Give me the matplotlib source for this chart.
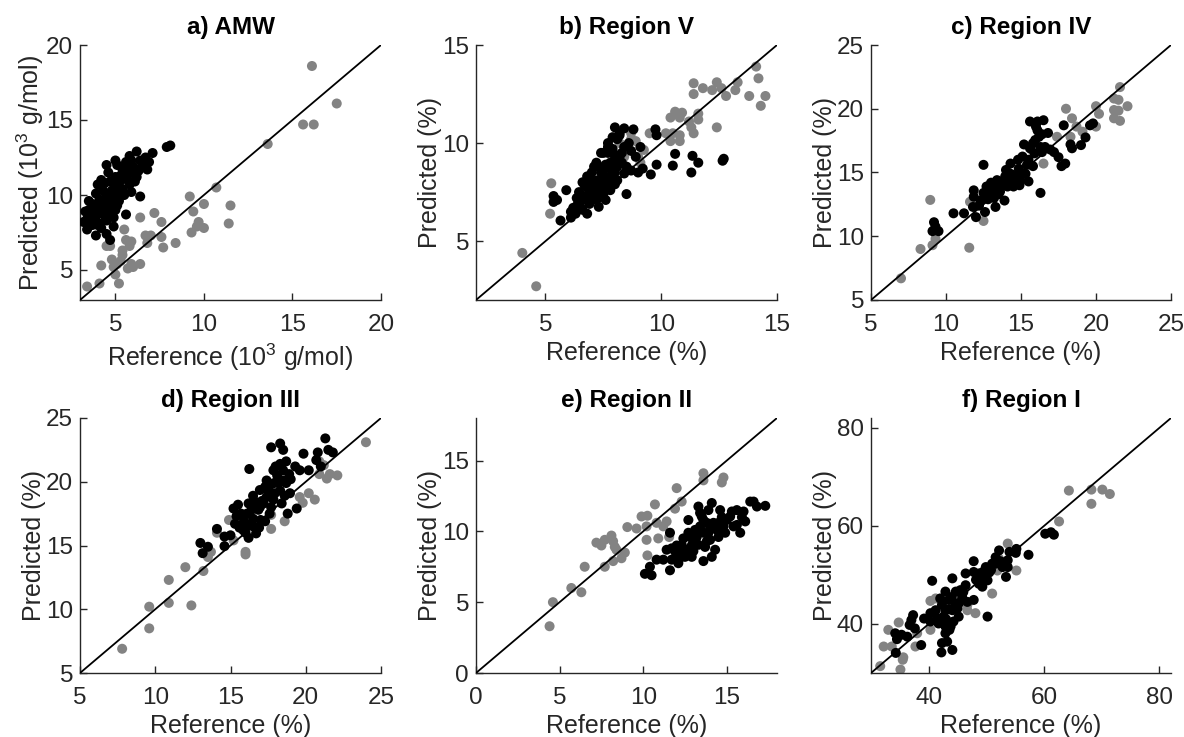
import numpy as np
import matplotlib
matplotlib.use("Agg")
import matplotlib.pyplot as plt

plt.rcParams['font.family'] = ['Liberation Sans', 'DejaVu Sans']
plt.rcParams['mathtext.fontset'] = 'custom'
plt.rcParams['mathtext.rm'] = 'Liberation Sans'
plt.rcParams['mathtext.it'] = 'Liberation Sans'

# ---- data: (reference, predicted) ----
# a) AMW (10^3 g/mol)
amw_gray = [(16.1, 18.6), (17.5, 16.1), (15.6, 14.7), (16.2, 14.7), (13.6, 13.4), (10.7, 10.5),
            (11.5, 9.3), (11.4, 8.1), (9.2, 9.9), (10.0, 9.4), (9.4, 8.9), (9.7, 8.2), (10.0, 7.8),
            (9.3, 7.5), (9.6, 7.9), (7.2, 8.8), (7.6, 8.2), (8.4, 6.8), (7.7, 6.5), (7.6, 7.2),
            (7.0, 7.3), (6.7, 7.3), (6.8, 6.8), (6.4, 8.5), (5.5, 7.7), (5.6, 7.0), (5.8, 6.6),
            (5.9, 6.9), (5.4, 6.3), (4.5, 6.6), (4.7, 6.6), (4.8, 5.7), (5.1, 5.4), (5.3, 5.6),
            (4.9, 5.2), (5.0, 4.7), (5.2, 4.1), (4.2, 5.3), (4.1, 4.1), (3.4, 3.9), (5.7, 5.1),
            (6.0, 5.2), (6.4, 5.4), (5.9, 5.4), (5.4, 6.0)]
amw_black = [(8.1, 13.3), (7.9, 13.2), (7.1, 12.8), (6.7, 12.5), (6.2, 12.9), (6.4, 12.3), (5.8, 12.6),
             (5.0, 12.3), (5.1, 12.0), (4.5, 12.0), (5.4, 11.7), (6.0, 11.9), (6.8, 11.7), (6.2, 11.2),
             (5.7, 11.0), (5.3, 11.0), (4.7, 10.9), (5.0, 10.6), (5.4, 10.4), (5.9, 10.2), (6.4, 9.9),
             (4.3, 10.3), (3.9, 10.1), (4.1, 9.7), (4.5, 9.9), (4.9, 9.9), (5.2, 9.6), (3.5, 9.6),
             (3.5, 9.0), (3.8, 9.1), (4.3, 9.1), (4.7, 9.2), (5.0, 9.0), (5.6, 8.7), (3.2, 8.2),
             (3.6, 8.2), (3.9, 8.6), (4.1, 8.1), (4.5, 8.3), (3.4, 7.7), (3.9, 7.3), (4.5, 7.4),
             (4.7, 7.0), (4.9, 7.9), (3.8, 8.8), (4.2, 8.8), (4.7, 8.8), (5.1, 10.3), (4.8, 9.4),
             (4.4, 9.3), (5.6, 11.4), (6.0, 11.5), (5.3, 11.3), (5.5, 11.9), (6.5, 11.9), (4.4, 10.8),
             (4.0, 10.7), (4.6, 10.1), (5.2, 10.8), (5.8, 10.7), (6.1, 10.9), (4.6, 11.5), (4.2, 11.0),
             (3.7, 9.4), (4.0, 8.0), (3.4, 8.4), (5.5, 10.0), (6.6, 12.1), (5.6, 12.2),
             (4.8, 10.3), (5.0, 11.2), (5.5, 11.1), (5.8, 11.6), (6.3, 11.6), (4.3, 9.6), (4.6, 9.6),
             (4.9, 8.5), (4.4, 8.6), (4.2, 7.8), (3.7, 8.0), (3.3, 8.9), (5.1, 9.3), (5.9, 12.3),
             (6.9, 12.2), (5.3, 10.0), (4.0, 9.4), (3.6, 8.6)]

# b) Region V (%)
r5_gray = [(4.0, 4.4), (4.6, 2.7), (5.25, 7.95), (5.2, 6.4), (14.1, 13.9), (14.2, 13.3), (14.5, 12.4),
           (14.3, 11.9), (13.8, 12.4), (13.3, 13.1), (13.2, 12.7), (12.8, 12.4), (12.4, 13.1),
           (12.6, 12.8), (12.2, 12.7), (11.8, 12.8), (11.4, 13.05), (11.4, 12.5), (12.4, 10.8),
           (11.6, 11.5), (11.6, 11.2), (11.3, 10.8), (11.4, 10.5), (10.9, 11.55), (10.8, 11.3),
           (10.6, 11.6), (10.4, 11.3), (10.8, 10.4), (10.8, 10.1), (10.5, 10.5), (10.2, 10.5),
           (10.4, 10.1), (11.2, 11.1), (9.5, 10.5), (9.25, 9.65), (9.0, 9.3), (9.1, 9.0), (8.7, 10.2),
           (8.2, 10.0), (8.4, 9.3), (8.9, 10.1), (8.7, 10.5)]
r5_black = [(12.65, 9.1), (12.7, 9.2), (11.6, 9.0), (11.35, 9.35), (11.3, 8.5), (10.6, 9.45),
            (10.5, 8.85), (9.8, 8.9), (9.75, 10.7), (9.8, 10.4), (9.55, 8.4), (9.2, 8.7), (9.0, 8.5),
            (8.5, 7.4), (8.4, 10.75), (8.8, 10.7), (8.0, 10.8), (9.1, 9.8), (8.2, 10.4), (8.1, 10.2),
            (7.5, 9.5), (7.7, 9.8), (5.35, 7.3), (5.5, 7.1), (5.35, 7.0), (5.9, 7.6), (5.65, 6.05),
            (6.1, 6.2), (6.2, 6.7), (6.3, 6.4), (6.5, 6.75), (6.6, 7.1), (6.45, 7.5), (6.8, 6.4),
            (6.9, 7.6), (6.8, 8.3), (6.9, 7.95), (7.15, 7.8), (7.2, 7.1), (7.0, 8.5), (7.2, 9.0),
            (7.4, 8.5), (7.5, 8.1), (7.5, 7.4), (7.8, 7.6), (7.6, 7.1), (7.3, 6.75), (6.9, 6.9),
            (6.65, 7.3), (7.8, 8.3), (8.1, 8.8), (7.95, 9.1), (8.2, 9.3), (7.8, 8.7), (8.4, 8.45),
            (8.7, 8.6), (8.1, 8.1), (7.7, 9.5), (7.4, 9.5), (7.1, 8.8), (6.35, 7.2), (7.7, 7.95),
            (7.25, 8.1), (6.8, 7.2), (6.9, 7.6), (7.3, 7.5), (8.0, 7.9), (8.7, 9.6), (8.4, 9.8),
            (8.2, 10.5), (7.9, 10.3), (7.5, 8.6), (6.6, 8.0), (7.0, 7.3), (7.3, 8.0), (7.6, 8.9),
            (8.0, 9.4), (7.2, 7.6), (6.6, 6.6), (7.9, 8.1), (8.3, 9.0),
            (7.0, 8.1), (7.4, 7.8), (7.6, 7.6), (7.1, 7.4), (6.7, 7.8), (7.9, 9.7), (8.3, 9.5),
            (8.6, 10.0), (7.8, 9.0), (7.3, 8.8), (6.9, 8.3), (7.5, 8.3), (8.0, 8.5), (8.5, 8.8),
            (6.4, 6.9), (6.1, 6.5), (7.7, 10.0), (8.9, 9.3)]

# c) Region IV (%)
r4_gray = [(7.0, 6.7), (8.3, 9.0), (8.95, 12.85), (9.1, 9.3), (9.3, 9.8), (11.55, 9.1), (11.6, 12.7),
           (12.5, 11.2), (18.0, 20.0), (18.4, 19.25), (18.7, 18.6), (19.1, 18.2), (18.3, 17.8),
           (17.4, 17.8), (20.0, 20.2), (20.2, 19.6), (20.0, 18.6), (21.6, 21.7), (21.2, 20.8),
           (21.5, 20.7), (22.1, 20.2), (21.2, 19.9), (21.5, 19.85), (21.2, 19.25), (21.6, 19.05),
           (16.5, 15.7), (15.7, 16.8)]
r4_black = [(9.2, 11.1), (9.3, 10.75), (9.1, 10.4), (9.5, 10.4), (10.5, 11.8), (11.2, 11.8),
            (12.0, 11.5), (11.8, 12.3), (11.85, 13.6), (12.5, 15.6), (12.6, 11.9), (13.3, 12.3),
            (13.9, 12.8), (12.3, 12.8), (12.5, 13.4), (12.7, 13.9), (13.2, 13.9), (13.6, 13.5),
            (13.4, 14.4), (13.95, 14.7), (14.3, 14.9), (14.1, 13.9), (14.5, 13.9), (14.6, 14.4),
            (14.85, 15.3), (15.3, 14.9), (15.5, 14.3), (14.95, 14.4), (14.3, 15.7), (15.1, 16.25),
            (15.5, 16.0), (15.2, 17.2), (15.6, 16.9), (15.8, 15.5), (15.95, 17.55), (16.1, 18.3),
            (15.6, 19.0), (16.1, 19.0), (16.5, 19.1), (16.2, 17.8), (15.8, 17.3), (16.4, 16.6),
            (16.6, 17.0), (16.8, 18.1), (16.3, 17.0), (16.95, 16.8), (17.5, 16.2), (17.7, 15.5),
            (17.95, 15.7), (17.85, 18.7), (18.3, 17.2), (18.4, 16.9), (19.0, 17.15), (19.3, 17.75),
            (19.6, 18.7), (19.8, 18.85), (16.3, 13.4), (11.85, 13.1), (13.2, 13.0), (13.7, 14.3),
            (14.5, 14.8), (12.9, 13.6), (13.0, 14.2), (14.0, 15.2), (14.8, 16.0), (15.9, 16.5),
            (12.2, 12.4), (13.5, 13.3), (12.8, 12.9), (13.6, 14.0), (14.2, 14.3), (15.0, 15.0),
            (15.4, 15.6), (16.0, 18.6), (16.4, 18.0), (14.9, 14.0), (13.1, 13.5), (17.2, 16.6)]

# d) Region III (%)
r3_gray = [(7.8, 6.9), (9.6, 8.5), (9.6, 10.2), (10.9, 12.3), (10.9, 10.5), (12.0, 13.3), (12.4, 10.3),
           (13.2, 13.0), (13.7, 14.5), (13.5, 14.1), (14.1, 16.0), (14.9, 17.0), (15.2, 15.4),
           (16.0, 14.3), (16.0, 14.5), (17.7, 16.3), (17.7, 17.4), (18.6, 16.9), (19.6, 18.8),
           (19.8, 18.35), (20.2, 19.1), (20.6, 18.6), (20.9, 20.6), (21.2, 21.3), (21.4, 20.25),
           (21.6, 20.6), (22.1, 20.5), (24.0, 23.1), (20.9, 21.6)]
r3_black = [(13.0, 15.2), (13.15, 14.4), (13.5, 14.9), (14.1, 16.3), (14.6, 14.95), (14.6, 15.7),
            (15.0, 15.8), (15.2, 17.9), (15.3, 16.7), (15.5, 18.2), (15.4, 17.3), (15.85, 16.7),
            (15.85, 16.2), (16.2, 15.6), (16.1, 17.5), (16.2, 18.3), (16.25, 21.0), (16.5, 17.1),
            (16.5, 16.5), (16.7, 15.95), (16.5, 18.9), (16.95, 19.35), (16.95, 18.0), (17.3, 16.9),
            (17.4, 20.1), (17.4, 18.8), (17.6, 19.7), (17.7, 18.0), (17.85, 20.9), (17.7, 22.7),
            (17.95, 19.1), (18.2, 19.9), (18.3, 23.0), (18.5, 22.5), (18.3, 21.4), (18.5, 20.9),
            (18.5, 20.1), (18.4, 18.3), (18.3, 19.3), (18.7, 19.9), (18.8, 17.5), (18.95, 19.1),
            (19.3, 21.2), (19.4, 17.9), (19.85, 22.2), (19.6, 20.9), (20.2, 20.9), (20.7, 21.7),
            (20.8, 22.3), (21.3, 23.4), (21.5, 22.5), (21.8, 22.3), (17.85, 18.6), (17.5, 19.35),
            (17.2, 18.3), (16.85, 17.8), (16.4, 17.8), (15.7, 17.5), (18.1, 20.5), (16.0, 16.0),
            (17.0, 17.0), (17.9, 19.9), (18.9, 20.6), (21.0, 21.2), (15.9, 16.9), (17.1, 18.5),
            (16.7, 18.4), (17.3, 19.6), (18.0, 21.2), (18.7, 21.6), (16.1, 16.6), (15.6, 16.4),
            (17.6, 17.5), (18.6, 18.9), (19.0, 20.2), (16.9, 16.4)]

# e) Region II (%)
r2_gray = [(4.4, 3.3), (4.6, 5.0), (5.7, 6.0), (6.3, 5.7), (6.5, 7.5), (7.2, 9.2), (7.5, 9.0), (7.7, 9.4),
           (8.1, 9.7), (8.2, 9.3), (8.3, 8.9), (8.4, 8.7), (7.7, 7.5), (8.2, 7.9), (8.7, 8.1), (8.9, 8.5),
           (9.05, 10.3), (9.6, 10.2), (9.9, 11.05), (10.25, 11.1), (10.2, 10.35), (10.2, 9.4),
           (10.25, 8.3), (10.7, 11.9), (10.8, 10.6), (10.9, 9.5), (11.2, 10.35), (11.4, 10.7),
           (11.55, 9.6), (12.0, 13.05), (11.9, 11.6), (12.3, 12.1), (13.6, 14.1), (13.6, 13.6),
           (14.8, 13.8), (14.7, 13.45)]
r2_black = [(10.1, 7.0), (10.5, 6.9), (10.4, 7.5), (10.8, 8.0), (11.6, 7.25), (11.6, 9.9), (11.7, 8.0),
            (12.0, 8.35), (12.1, 7.75), (11.7, 8.8), (12.3, 9.05), (12.6, 8.7), (12.4, 9.5), (12.7, 9.9),
            (12.9, 8.2), (13.0, 9.2), (13.1, 10.1), (13.3, 11.75), (13.5, 11.05), (13.6, 7.9),
            (13.6, 9.9), (13.8, 10.6), (13.7, 8.9), (13.9, 11.5), (14.0, 9.4), (14.2, 10.6), (14.3, 8.7),
            (14.5, 9.6), (14.6, 11.5), (14.1, 8.2), (14.8, 10.35), (15.2, 11.05), (15.4, 10.35),
            (15.6, 11.5), (15.8, 9.9), (16.0, 11.4), (16.4, 12.1), (16.6, 12.1), (16.1, 10.7),
            (16.8, 11.75), (17.3, 11.8), (15.6, 10.45), (13.4, 10.35), (12.8, 9.6), (12.2, 8.6),
            (11.4, 8.7), (11.2, 8.0), (12.7, 10.8), (14.0, 10.35), (15.0, 10.8), (14.5, 10.6),
            (13.3, 9.05), (14.1, 12.0), (12.0, 9.0), (13.0, 8.6), (13.9, 9.9), (14.9, 9.9), (15.3, 11.4),
            (13.5, 10.0), (12.5, 8.2), (13.2, 9.6), (13.8, 9.3), (14.4, 10.1), (13.6, 10.8),
            (12.9, 9.0), (14.7, 11.0), (15.9, 11.0), (12.3, 8.2), (11.9, 8.6), (13.4, 11.3)]

# f) Region I (%)
r1_gray = [(68.2, 67.4), (70.1, 67.4), (71.4, 66.5), (64.3, 67.2), (68.2, 64.5), (62.6, 60.9),
           (53.7, 56.4), (55.2, 50.9), (51.0, 46.2), (48.1, 42.2), (46.7, 42.8), (46.7, 43.9),
           (40.3, 44.7), (41.2, 45.2), (40.3, 38.8), (34.8, 40.3), (33.0, 38.8), (32.2, 35.4),
           (33.6, 35.4), (37.7, 35.4), (35.6, 33.2), (31.6, 31.4), (35.1, 30.7), (35.5, 32.7),
           (38.0, 38.1), (52.2, 53.3), (51.9, 50.9)]
r1_black = [(60.2, 58.4), (61.2, 58.7), (61.7, 58.2), (57.3, 54.1), (55.2, 55.3), (55.1, 54.5),
            (54.0, 54.7), (53.7, 53.0), (52.2, 55.0), (51.6, 53.6), (53.4, 49.6), (52.8, 51.6),
            (51.0, 52.3), (49.9, 51.6), (48.7, 50.3), (47.8, 52.8), (50.2, 48.9), (49.3, 47.6),
            (47.8, 44.9), (50.2, 41.5), (46.4, 47.9), (45.5, 46.9), (44.1, 49.3), (44.7, 46.6),
            (42.9, 46.6), (43.5, 44.9), (45.2, 44.2), (42.3, 43.9), (41.2, 42.8), (42.9, 42.8),
            (44.1, 42.8), (45.2, 41.5), (42.6, 41.5), (41.7, 40.1), (42.9, 39.5), (42.9, 38.1),
            (43.2, 36.4), (42.3, 36.1), (42.2, 34.2), (44.1, 34.7), (40.6, 48.8), (40.3, 42.2),
            (39.2, 41.1), (37.3, 41.8), (36.7, 39.8), (37.6, 39.1), (36.3, 37.4), (34.2, 38.1),
            (34.5, 36.9), (34.3, 34.1), (38.7, 35.7), (40.3, 40.5), (46.4, 50.3), (48.7, 48.2),
            (51.6, 52.3), (46.7, 44.5), (41.5, 41.1), (44.7, 44.2), (43.8, 39.5), (47.8, 50.6),
            (53.7, 51.6), (43.5, 43.0), (44.0, 45.5), (45.8, 45.5), (49.0, 49.5), (50.5, 50.5),
            (43.0, 41.0), (44.3, 40.5), (43.6, 38.8), (42.0, 45.2), (45.0, 43.2), (46.0, 46.5),
            (48.2, 49.0), (50.8, 51.0), (52.4, 52.8), (49.4, 50.6), (37.0, 40.8), (35.3, 37.8)]

titles = ['a) AMW', 'b) Region V', 'c) Region IV', 'd) Region III', 'e) Region II', 'f) Region I']
gray_sets = [amw_gray, r5_gray, r4_gray, r3_gray, r2_gray, r1_gray]
black_sets = [amw_black, r5_black, r4_black, r3_black, r2_black, r1_black]
limits = [(3, 20), (2, 15), (5, 25), (5, 25), (0, 18), (30, 82)]
ticks = [[5, 10, 15, 20], [5, 10, 15], [5, 10, 15, 20, 25], [5, 10, 15, 20, 25], [0, 5, 10, 15], [40, 60, 80]]
xlabels = ['Reference (10$^3$ g/mol)'] + ['Reference (%)'] * 5
ylabels = ['Predicted (10$^3$ g/mol)'] + ['Predicted (%)'] * 5

# axes boxes in pixels (left, top, right, bottom) measured on the 1184x737 image
W, H = 1184, 737
cols = [(80, 381), (476, 777), (871, 1171)]
rows = [(45, 300), (418, 673)]

fig = plt.figure(figsize=(W / 100, H / 100), dpi=100)
ink = '#262626'
for i in range(6):
    (l, r), (t, b) = cols[i % 3], rows[i // 3]
    ax = fig.add_axes([l / W, 1 - b / H, (r - l) / W, (b - t) / H])
    lo, hi = limits[i]
    g = np.array(gray_sets[i]).T
    k = np.array(black_sets[i]).T
    ax.scatter(g[0], g[1], s=52, c='#838383', edgecolors='none', zorder=2)
    ax.scatter(k[0], k[1], s=52, c='black', edgecolors='none', zorder=3)
    ax.plot([lo, hi], [lo, hi], color='black', lw=1.3, zorder=4)
    ax.set_xlim(lo, hi); ax.set_ylim(lo, hi)
    ax.set_xticks(ticks[i]); ax.set_yticks(ticks[i])
    for s in ['top', 'right']:
        ax.spines[s].set_visible(False)
    for s in ['left', 'bottom']:
        ax.spines[s].set_color(ink); ax.spines[s].set_linewidth(1.0)
    ax.tick_params(direction='in', length=5, width=1.0, colors=ink, labelsize=17.5)
    ax.tick_params(axis='x', pad=10)
    ax.tick_params(axis='y', pad=5)
    ax.set_xlabel(xlabels[i], fontsize=18, color=ink, labelpad=4)
    ax.set_ylabel(ylabels[i], fontsize=18, color=ink, labelpad=0)
    ax.set_title(titles[i], fontsize=17.5, fontweight='bold', color='black', pad=8)

fig.savefig('out.png', dpi=100)
